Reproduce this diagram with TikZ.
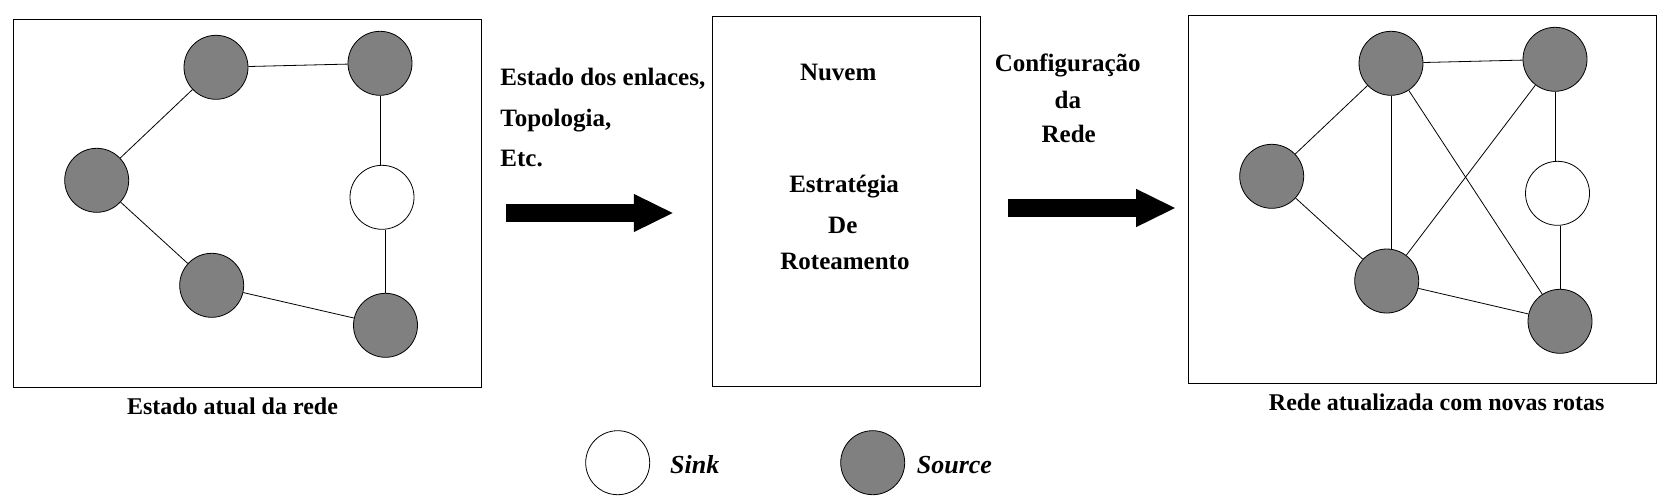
\documentclass[tikz,border=0pt]{standalone}
\usepackage{fontspec}
\setmainfont{Liberation Serif}
\usetikzlibrary{arrows.meta}

\begin{document}
\begin{tikzpicture}[x=1pt, y=-1pt,
        knoten/.style={circle, draw=black, line width=0.8pt, minimum size=64pt, inner sep=0pt},
        quelle/.style={knoten, fill=knotengrau},
        senke/.style={knoten, fill=white},
        kasten/.style={draw=black, line width=1.1pt, inner sep=0pt},
        kante/.style={draw=black, line width=0.8pt},
        text25/.style={font=\bfseries\fontsize{25pt}{30pt}\selectfont, inner sep=0pt},
        titel/.style={font=\bfseries\fontsize{24pt}{28pt}\selectfont, inner sep=0pt},
        legende/.style={font=\bfseries\itshape\fontsize{26pt}{30pt}\selectfont, inner sep=0pt},
        pfeil/.style={line width=17.7pt, -{Triangle[length=40pt, width=35pt]}}
    ]

        % Farben
        \definecolor{knotengrau}{RGB}{128,128,128}

        \useasboundingbox (0,0) rectangle (1674,501);

        % Kaesten
        \node[kasten, minimum width=468.4pt, minimum height=368pt] (alt) at (247.5,203.3) {};
        \node[kasten, minimum width=268.2pt, minimum height=370pt] (wolke) at (846.4,201.3) {};
        \node[kasten, minimum width=468.4pt, minimum height=368pt] (neu) at (1422.5,199.3) {};

        % Netz vorher
        \node[quelle] (aA) at (216,67.3) {};
        \node[quelle] (aB) at (380,63.3) {};
        \node[quelle] (aC) at (96.7,180.3) {};
        \node[senke]  (aD) at (382,197.3) {};
        \node[quelle] (aE) at (211.7,285.3) {};
        \node[quelle] (aF) at (385.5,325.3) {};
        \foreach \a/\b in {A/B, A/C, C/E, E/F}
            \draw[kante] (a\a) -- (a\b);
        % senkrechte Kanten
        \draw[kante] (aB.south) -- (aB.south |- aD.north);
        \draw[kante] (aF.north) -- (aF.north |- aD.south);

        % Netz nachher
        \node[quelle] (nA) at (1391,63.3) {};
        \node[quelle] (nB) at (1555,59.3) {};
        \node[quelle] (nC) at (1271.7,176.3) {};
        \node[senke]  (nD) at (1557.5,193.3) {};
        \node[quelle] (nE) at (1386.7,281) {};
        \node[quelle] (nF) at (1560,321.3) {};
        \foreach \a/\b in {A/B, A/C, C/E, A/F, B/E, E/F}
            \draw[kante] (n\a) -- (n\b);
        % senkrechte Kanten
        \draw[kante] (nA.south) -- (nA.south |- nE.north);
        \draw[kante] (nB.south) -- (nB.south |- nD.north);
        \draw[kante] (nF.north) -- (nF.north |- nD.south);

        % Beschriftungen
        \node[titel, anchor=base] (titelalt) at (232.5,414.3) {Estado atual da rede};
        \node[titel, anchor=base] (titelneu) at (1436.7,410) {Rede atualizada com novas rotas};

        \node[text25, anchor=base west] (info1) at (500.2,85) {Estado dos enlaces,};
        \node[text25, anchor=base west] (info2) at (500.2,126.7) {Topologia,};
        \node[text25, anchor=base west] (info3) at (500.2,166.7) {Etc.};

        \node[text25, anchor=base] (nuvem) at (838.2,80) {Nuvem};
        \node[text25, anchor=base] (estr1) at (844.1,192.3) {Estratégia};
        \node[text25, anchor=base] (estr2) at (842.8,233.3) {De};
        \node[text25, anchor=base] (estr3) at (845,269) {Roteamento};

        \node[text25, anchor=base] (konf1) at (1067.8,71.7) {Configuração};
        \node[text25, anchor=base] (konf2) at (1067.8,108.3) {da};
        \node[text25, anchor=base] (konf3) at (1068.7,142.3) {Rede};

        % Pfeile
        \coordinate (p1a) at (506.2,213);
        \coordinate (p1b) at (673.8,213);
        \coordinate (p2a) at (1008,208);
        \coordinate (p2b) at (1176.1,208);
        \draw[pfeil] (p1a) -- (p1b);
        \draw[pfeil] (p2a) -- (p2b);

        % Legende
        \node[senke]  (lsenke)  at (617.7,462.7) {};
        \node[quelle] (lquelle) at (872.7,462.7) {};
        \node[legende, anchor=base west] (tsenke)  at (670,473.3) {Sink};
        \node[legende, anchor=base west] (tquelle) at (916.7,473.3) {Source};

    \end{tikzpicture}
\end{document}
